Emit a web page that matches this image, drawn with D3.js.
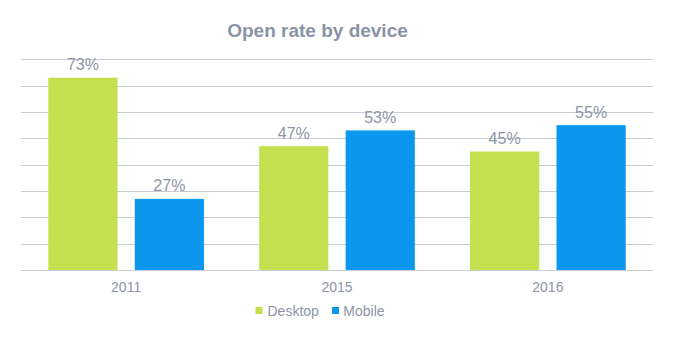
<!DOCTYPE html>
<html><head><meta charset="utf-8">
<script src="https://cdn.jsdelivr.net/npm/d3@7"></script>
<style>
html,body{margin:0;padding:0;background:#fff;}
svg{display:block;font-family:"Liberation Sans",Arial,sans-serif;}
</style></head>
<body><svg id="c" width="683" height="339"></svg>
<script>
const categories = ["2011", "2015", "2016"];
const seriesNames = ["Desktop", "Mobile"];
const desktopValues = [73, 47, 45];
const mobileValues = [27, 53, 55];
const yTicks = [0, 10, 20, 30, 40, 50, 60, 70, 80];
const colors = ["#c5e04f", "#0c97ee"];

const svg = d3.select("#c");
const plotLeft = 20.7, plotRight = 653.3, plotTop = 59.3, plotBottom = 270;

const x = d3.scaleBand().domain(categories).range([plotLeft, plotRight]).paddingInner(0).paddingOuter(0);
const inner = d3.scaleBand().domain(seriesNames).range([27.6, x.bandwidth() - 27.6]).paddingInner(0.2);
const y = d3.scaleLinear().domain([0, 80]).range([plotBottom, plotTop]);

const textColor = "#8e95a5";

// gridlines
svg.append("g").selectAll("line").data(yTicks).join("line")
  .attr("x1", plotLeft).attr("x2", plotRight)
  .attr("y1", d => Math.round(y(d)) + 0.5).attr("y2", d => Math.round(y(d)) + 0.5)
  .attr("stroke", "#c9cbd5").attr("stroke-width", 1);

// title
svg.append("text").attr("x", 317.5).attr("y", 36.5).attr("text-anchor", "middle")
  .attr("font-size", 19).attr("font-weight", "bold").attr("fill", "#8a93a6")
  .text("Open rate by device");

const data = [];
categories.forEach((c, i) => {
  data.push({cat: c, s: "Desktop", v: desktopValues[i], col: colors[0]});
  data.push({cat: c, s: "Mobile", v: mobileValues[i], col: colors[1]});
});

svg.append("g").selectAll("rect").data(data).join("rect")
  .attr("x", d => x(d.cat) + inner(d.s))
  .attr("width", inner.bandwidth())
  .attr("y", d => y(d.v))
  .attr("height", d => plotBottom - y(d.v))
  .attr("fill", d => d.col);

svg.append("g").selectAll("text").data(data).join("text")
  .attr("x", d => x(d.cat) + inner(d.s) + inner.bandwidth() / 2)
  .attr("y", d => y(d.v) - 7.5)
  .attr("text-anchor", "middle").attr("font-size", 16).attr("fill", textColor)
  .text(d => d.v + "%");

// x axis
const xAxis = d3.axisBottom(x).tickSize(0).tickPadding(0);
const gx = svg.append("g").attr("transform", `translate(0,${plotBottom})`).call(xAxis);
gx.select(".domain").remove();
gx.selectAll("text").attr("font-size", 14).attr("fill", textColor)
  .attr("dy", null).attr("y", 22.3).attr("font-family", "Liberation Sans, Arial, sans-serif");

// legend
const legendItems = [
  {name: seriesNames[0], col: colors[0], sx: 255.5, tx: 267.5},
  {name: seriesNames[1], col: colors[1], sx: 332, tx: 343.3}
];
const lg = svg.append("g");
lg.selectAll("rect").data(legendItems).join("rect")
  .attr("x", d => d.sx).attr("y", 307).attr("width", 7).attr("height", 7).attr("fill", d => d.col);
lg.selectAll("text").data(legendItems).join("text")
  .attr("x", d => d.tx).attr("y", 315.5).attr("font-size", 14).attr("fill", textColor)
  .text(d => d.name);
</script></body></html>
